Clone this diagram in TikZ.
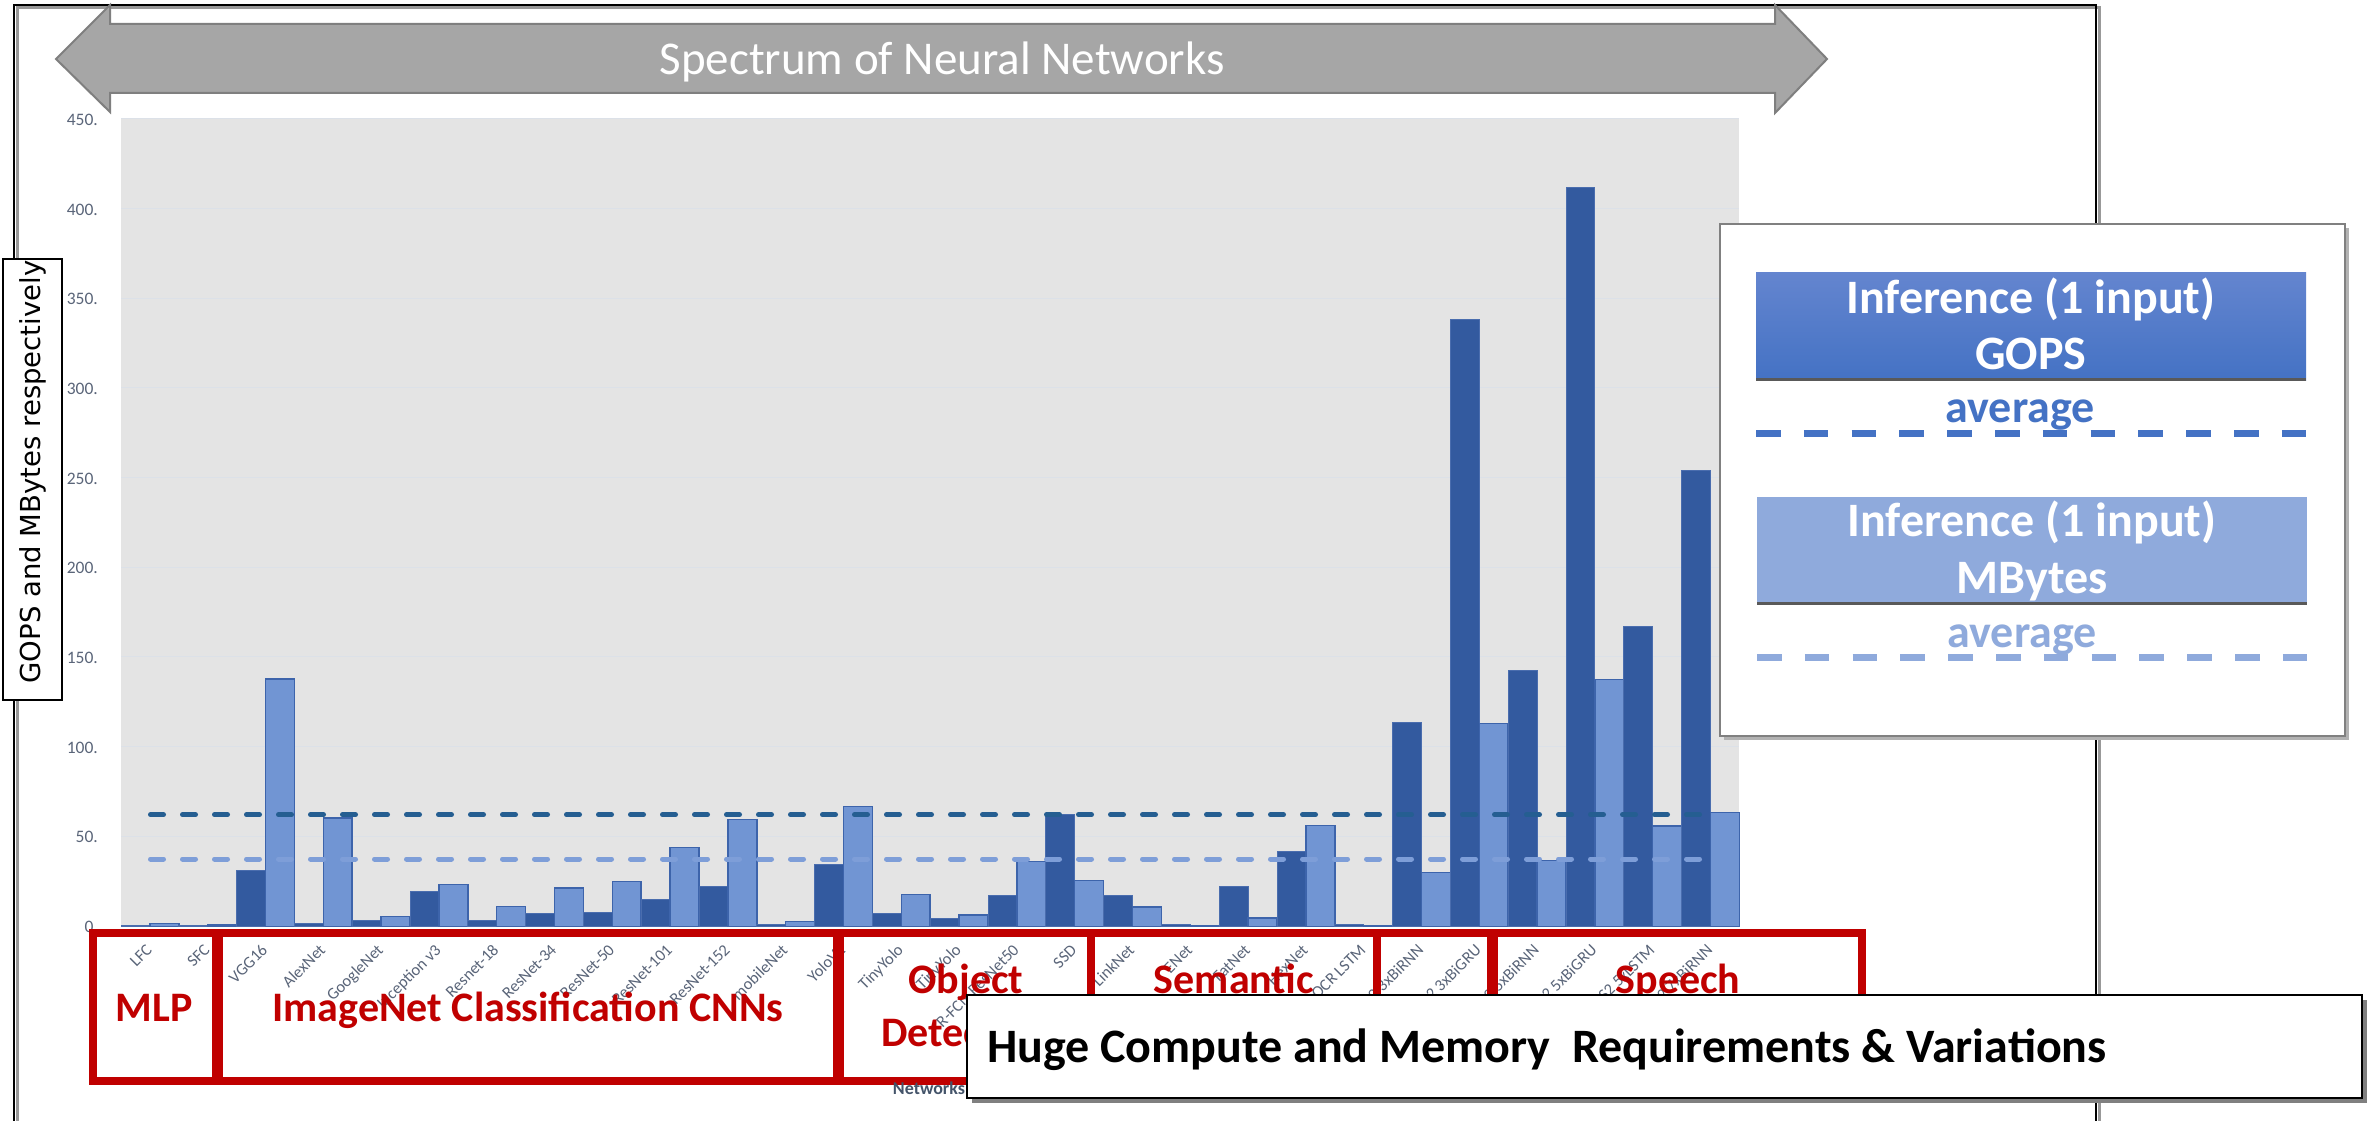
\documentclass[tikz,border=0pt]{standalone}
\usepackage{fontspec}
\setmainfont{Carlito}
\newfontfamily\dejavu{DejaVu Sans}
\definecolor{cDark}{HTML}{335A9F}
\definecolor{cDarkEdge}{HTML}{4A6DAE}
\definecolor{cLight}{HTML}{7195D3}
\definecolor{cLightEdge}{HTML}{3D64AB}
\definecolor{cAvgD}{HTML}{255E91}
\definecolor{cAvgL}{HTML}{7E9ED8}
\definecolor{cBg}{HTML}{E4E4E4}
\definecolor{cGrid}{HTML}{DCE1E8}
\definecolor{cAxis}{HTML}{5A6579}
\definecolor{cRed}{HTML}{C00000}
\definecolor{cArrow}{HTML}{A6A6A6}
\definecolor{cArrowEdge}{HTML}{7F7F7F}
\definecolor{cGops}{HTML}{4472C4}
\definecolor{cGopsTop}{HTML}{6485CF}
\definecolor{cMB}{HTML}{8FAADC}
\definecolor{cLegLine}{HTML}{595959}
\definecolor{cTitle}{HTML}{44546A}
\begin{document}
\begin{tikzpicture}[x=1pt,y=-1pt,
  barD/.style={fill=cDark, draw=cDarkEdge, line width=1pt},
  barL/.style={fill=cLight, draw=cLightEdge, line width=1.5pt},
  xlab/.style={rotate=45, anchor=base east, inner sep=0pt, text=cAxis, font=\fontsize{16.5}{19}\selectfont},
  ticklab/.style={anchor=east, inner sep=0pt, text=cAxis, font=\fontsize{17.5}{20}\selectfont},
  redbox/.style={draw=cRed, line width=8pt, line join=miter},
  redtxt/.style={anchor=base, text=cRed, font=\bfseries\fontsize{42}{53}\selectfont, inner sep=0pt},
  avgline/.style={line width=5pt, line cap=round, dash pattern=on 13pt off 19pt},
  legtxt/.style={anchor=base, text=white, font=\bfseries\fontsize{48}{56}\selectfont, inner sep=0pt},
  avgtxt/.style={anchor=base, font=\bfseries\fontsize{46}{54}\selectfont, inner sep=0pt},
  legdash/.style={line width=7pt, dash pattern=on 24.6pt off 23.2pt},
]
\useasboundingbox (0,0) rectangle (2369,1121);
\fill[white] (0,0) rectangle (2369,1121);

% outer frame with shadow
\draw[line width=3pt, black!40] (17,1130) -- (17,8) -- (2099,8) -- (2099,1130);
\draw[line width=2.5pt, black] (14,1130) -- (14,5) -- (2096,5) -- (2096,1130);

% chart background and grid
\fill[cBg] (121,119) rectangle (1739,927);
\foreach \v in {50,100,...,450}{
  \pgfmathsetmacro{\yy}{926-1.794*\v}
  \draw[cGrid, line width=1pt] (121,\yy) -- (1739,\yy);
}
\foreach \v in {0,50,...,450}{
  \pgfmathsetmacro{\yy}{926-1.794*\v+1}
  \node[ticklab] (tick\v) at (98,\yy) {\v.};
}

% bars and category labels
\foreach \i/\d/\l/\lab in {
  0/0.3/1.3/LFC, 1/0.5/0.5/SFC, 2/30.7/137.7/VGG16, 3/1.2/60.2/AlexNet,
  4/3.0/5.3/GoogleNet, 5/19.2/23.2/Inception v3, 6/3.0/10.8/Resnet-18,
  7/7.2/21.3/ResNet-34, 8/7.5/24.9/ResNet-50, 9/14.9/43.7/ResNet-101,
  10/22.0/59.3/ResNet-152, 11/0.6/2.5/mobileNet, 12/34.4/66.7/YoloV2,
  13/7.0/17.7/TinyYolo, 14/4.2/6.1/TinyYolo, 15/17.0/35.9/R-FCN ResNet50,
  16/62.1/25.4/SSD, 17/17.0/10.6/LinkNet, 18/1.0/0.3/ENet, 19/22.0/4.4/FatNet,
  20/41.6/56.1/HexNet, 21/0.7/0.3/OCR LSTM, 22/113.3/29.7/DS2 3xBiRNN,
  23/337.8/113.0/DS2 3xBiGRU, 24/142.7/36.4/DS2 5xBiRNN, 25/411.5/137.5/DS2 5xBiGRU,
  26/167.2/55.7/DS2 5xLSTM, 27/254.0/63.4/DS2 7xBiRNN}{
  \pgfmathsetmacro{\xa}{121+57.8*\i}
  \pgfmathsetmacro{\xb}{\xa+28.9}
  \pgfmathsetmacro{\xc}{\xa+57.8}
  \pgfmathsetmacro{\yd}{926-1.794*\d}
  \pgfmathsetmacro{\yl}{926-1.794*\l}
  \draw[barD] (\xa,926.5) rectangle (\xb,\yd);
  \draw[barL] (\xb,926.5) rectangle (\xc,\yl);
  \node[xlab] (xl\i) at ({\xb+3},951) {\lab};
}

% averages
\draw[avgline, cAvgD] (150.5,814.8) -- (1711,814.8);
\draw[avgline, cAvgL] (150.5,859) -- (1711,859);

% red category boxes
\draw[redbox] (92.5,932.5) rectangle (216,1080.5);
\draw[redbox] (219,932.5) rectangle (837,1080.5);
\draw[redbox] (840,932.5) rectangle (1091,1080.5);
\draw[redbox] (1091,932.5) rectangle (1377,1080.5);
\draw[redbox] (1377,932.5) rectangle (1491,1080.5);
\draw[redbox] (1494,932.5) rectangle (1862,1080.5);
\node[redtxt] (mlp) at (154,1021) {MLP};
\node[redtxt] (imgnet) at (528,1021) {ImageNet Classification CNNs};
\node[redtxt] (obj1) at (966,993) {Object};
\node[redtxt] (obj2) at (966,1046) {Detection};
\node[redtxt] (sem) at (1234,993) {Semantic};
\node[redtxt] (speech) at (1678,993) {Speech};
\node[anchor=base, inner sep=0pt, text=cTitle, font=\bfseries\fontsize{18}{21}\selectfont] (xtitle) at (929,1094) {Networks};

% spectrum arrow
\draw[fill=cArrow, draw=cArrowEdge, line width=2pt, line join=miter]
  (56,59) -- (110,5) -- (110,24) -- (1775,24) -- (1775,5) -- (1827,59)
  -- (1775,113) -- (1775,93) -- (110,93) -- (110,112) -- cycle;
\node[anchor=base, inner sep=0pt, text=white, font=\fontsize{47}{54}\selectfont] (spec) at (942,75) {Spectrum of Neural Networks};

% y axis title
\draw[fill=white, draw=black, line width=2pt] (3,259) rectangle (62,700);
\node[rotate=90, inner sep=0pt, font=\dejavu\fontsize{27.5}{32}\selectfont] (ytitle) at (33,472) {GOPS and MBytes respectively};

% legend
\fill[black!30] (1724,228) rectangle (2349,740);
\draw[fill=white, draw=black!50, line width=2.5pt] (1720,224) rectangle (2345,736);
\shade[top color=cGopsTop, bottom color=cGops] (1756,272) rectangle (2306,380);
\draw[cLegLine, line width=3pt] (1756,379) -- (2306,379);
\node[legtxt] (g1) at (2031,313) {Inference (1 input)};
\node[legtxt] (g2) at (2031,369) {GOPS};
\draw[legdash, cGops] (1756,433.5) -- (2306,433.5);
\node[avgtxt, text=cGops] (gavg) at (2020,422) {average};
\fill[cMB] (1757,497) rectangle (2307,604);
\draw[cLegLine, line width=3pt] (1757,603) -- (2307,603);
\node[legtxt] (m1) at (2032,536) {Inference (1 input)};
\node[legtxt] (m2) at (2032,593) {MBytes};
\draw[legdash, cMB] (1757,657) -- (2307,657);
\node[avgtxt, text=cMB] (mavg) at (2022,647) {average};

% bottom message box
\fill[black!50] (972,1000) rectangle (2367,1103);
\draw[fill=white, draw=black, line width=2.5pt] (967,995) rectangle (2362,1098);
\node[anchor=base west, inner sep=0pt, font=\bfseries\fontsize{48}{56}\selectfont] (huge) at (987,1062) {Huge Compute and Memory~ Requirements \& Variations};
\end{tikzpicture}
\end{document}
